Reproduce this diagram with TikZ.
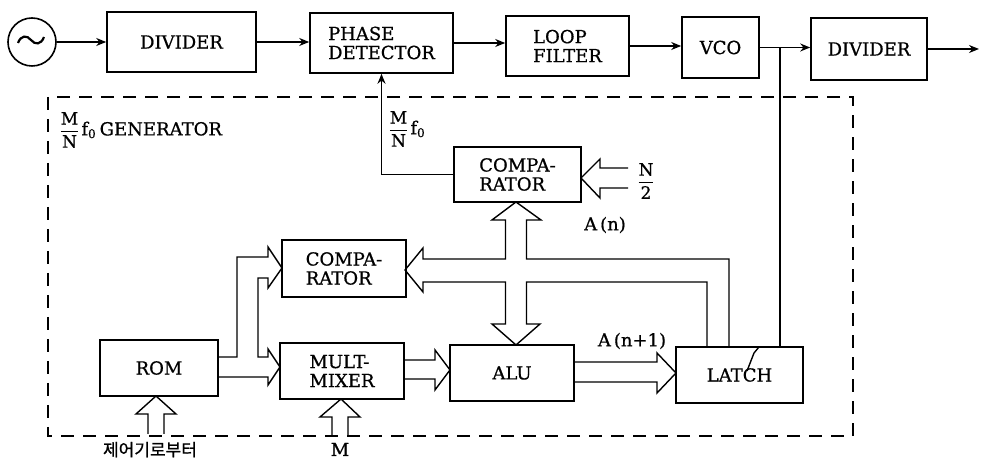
\documentclass[tikz,border=0pt]{standalone}
\usepackage{fontspec}
\setmainfont{DejaVu Serif}[FakeBold=0.7]
\newfontfamily\krfont{Noto Sans CJK KR}[FakeBold=1]
\usetikzlibrary{arrows.meta,calc}
\begin{document}
\begin{tikzpicture}[x=0.5pt,y=-0.5pt,
  blk/.style={draw,line width=0.8pt,inner sep=0pt,align=left,font=\fontsize{9}{9.5}\selectfont},
  wire/.style={line width=0.7pt},
  arr/.style={wire,-{Stealth[length=5pt,width=4pt]}},
  bus/.style={line width=0.7pt,line join=miter},
  frame/.style={line width=0.7pt,dash pattern=on 6.5pt off 4.5pt},
  lbl/.style={font=\fontsize{9}{10}\selectfont,inner sep=0pt},
  frc/.style={font=\fontsize{8.5}{9}\selectfont,inner sep=0pt}]
\useasboundingbox (0,0) rectangle (981,458);

% top chain
\node[draw,circle,minimum size=24pt,inner sep=0pt,line width=0.8pt] (osc) at (32,42) {};
\draw[line width=1.1pt,shift={(osc.center)}] (-14,1) .. controls (-11,-7) and (-5,-7) .. (-1,-2) .. controls (3,3) and (9,3) .. (12,-5);
\node[blk,minimum width=74.5pt,minimum height=30pt] (div1) at (181.5,42) {DIVIDER};
\node[blk,minimum width=71.5pt,minimum height=30pt] (pd) at (381.5,43) {PHASE\\DETECTOR};
\node[blk,minimum width=61.5pt,minimum height=30pt] (lf) at (567.5,46) {LOOP\\FILTER};
\node[blk,minimum width=38.5pt,minimum height=30.5pt] (vco) at (720.5,47.5) {VCO};
\node[blk,minimum width=58pt,minimum height=31pt] (div2) at (869,49) {DIVIDER};
\coordinate (out) at (979,49);

\draw[arr] (osc.east) -- (osc.east -| div1.west);
\draw[arr] (div1.east) -- (div1.east -| pd.west);
\draw[arr] (pd.east) -- (pd.east -| lf.west);
\draw[arr] (lf.east) -- (lf.east -| vco.west);
\draw[arr] (vco.east) -- (vco.east -| div2.west);
\draw[arr] (div2.east) -- (out);

% generator frame
\draw[frame] (48,97) rectangle (853,436);
\node[frc,anchor=west] (gfrac) at (58,130) {$\displaystyle\frac{\mbox{M}}{\mbox{N}}$};
\node[lbl,anchor=west] (gen) at (gfrac.east) {f\textsubscript{0}\,GENERATOR};

% inner blocks
\node[blk,minimum width=63.5pt,minimum height=27.5pt] (comp1) at (517.5,174.5) {COMPA-\\RATOR};
\node[blk,minimum width=62pt,minimum height=28.5pt] (comp2) at (344,268.5) {COMPA-\\RATOR};
\node[blk,minimum width=59pt,minimum height=28pt] (rom) at (159,368) {ROM};
\node[blk,minimum width=62pt,minimum height=28pt] (mm) at (342,371) {MULT-\\MIXER};
\node[blk,minimum width=62pt,minimum height=28pt] (alu) at (512,373) {ALU};
\node[blk,minimum width=63.5pt,minimum height=28pt] (latch) at (739.5,375) {LATCH};

% feedback to phase detector
\draw[arr] (comp1.west) -| (pd.south);
\node[frc,anchor=west] (ffrac) at (387,129) {$\displaystyle\frac{\mbox{M}}{\mbox{N}}$};
\node[lbl,anchor=west] (ff) at (ffrac.east) {f\textsubscript{0}};

% VCO branch to latch
\coordinate (br) at ($(vco.east)!0.4!(vco.east -| div2.west)$);
\draw[wire] (br) -- (br |- latch.north);
\draw[wire] (759,347) -- (754,353) -- (747,371);

% N/2 input
\draw[bus] (628,168) -- (600,168) -- (600,159) -- (581,178) -- (600,198) -- (600,188) -- (628,188);
\node[frc] (nhalf) at (646,181) {$\displaystyle\frac{\mbox{N}}{\mbox{2}}$};

% A(n) bus network
\draw[bus] (729,347) -- (729,259) -- (526.5,259) -- (526.5,220) -- (541,220) -- (516,202) -- (492,220) -- (505.5,220) -- (505.5,259) -- (423,259) -- (423,248) -- (405,270) -- (423,292) -- (423,282) -- (505.5,282) -- (505.5,324) -- (492,324) -- (516,345) -- (540,324) -- (526.5,324) -- (526.5,282) -- (707,282) -- (707,347);
\node[lbl] (an) at (605,225) {A\,(n)};

% ROM outputs
\draw[bus] (218,357) -- (237,357) -- (237,257) -- (268,257) -- (268,247) -- (282,268) -- (268,288) -- (268,278) -- (258,278) -- (258,357) -- (268,357) -- (268,349) -- (280,367) -- (268,385) -- (268,377) -- (218,377);

% MM -> ALU
\draw[bus] (404,360) -- (435,360) -- (435,350) -- (450,370) -- (435,390) -- (435,379) -- (404,379);
% ALU -> LATCH
\draw[bus] (574,362) -- (657,362) -- (657,353) -- (676,373) -- (657,393) -- (657,382) -- (574,382);
\node[lbl] (an1) at (632,341) {A\,(n+1)};

% bottom inputs
\draw[bus] (148,434) -- (148,414) -- (136,414) -- (156,396) -- (176,414) -- (164,414) -- (164,434);
\draw[bus] (332,435) -- (332,417) -- (320,417) -- (341,399) -- (360,417) -- (348,417) -- (348,435);
\node[font=\krfont\fontsize{8.5}{9}\selectfont,inner sep=0pt,anchor=base] (kr) at (150,456) {제어기로부터};
\node[lbl,anchor=base] (mlab) at (340,456) {M};
\end{tikzpicture}
\end{document}
